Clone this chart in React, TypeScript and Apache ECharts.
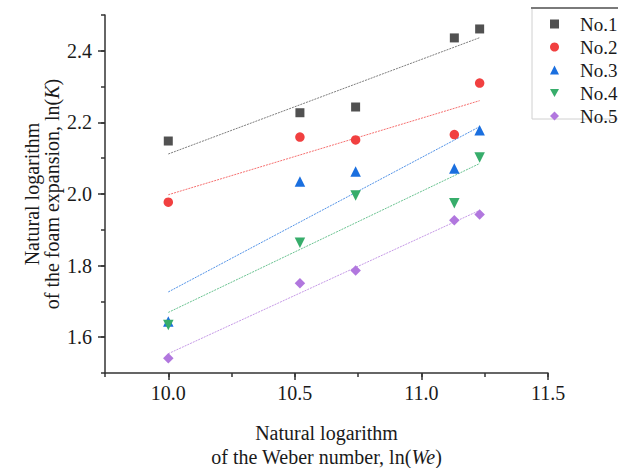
import React, { useEffect, useRef } from "react";
import * as echarts from "echarts";

const lnWe = [10.0, 10.52, 10.74, 11.13, 11.23];
const no1 = [2.148, 2.227, 2.243, 2.436, 2.461];
const no2 = [1.977, 2.159, 2.151, 2.166, 2.31];
const no3 = [1.644, 2.035, 2.063, 2.071, 2.178];
const no4 = [1.634, 1.864, 1.996, 1.974, 2.102];
const no5 = [1.541, 1.751, 1.786, 1.927, 1.943];
const seriesNames = ["No.1", "No.2", "No.3", "No.4", "No.5"];
const seriesValues = [no1, no2, no3, no4, no5];

const xMin = 9.75;
const xMax = 11.5;
const xMajorMin = 10.0;
const xMajorStep = 0.5;
const xMinorStep = 0.25;
const yMin = 1.5;
const yMax = 2.5;
const yMajorMin = 1.6;
const yMajorMax = 2.4;
const yMajorStep = 0.2;
const yMinorStep = 0.1;

const colors = ["#515151", "#F14040", "#1A6FDF", "#37AD6B", "#B177DE"];
const symbols = ["rect", "circle", "triangle", "triangle", "diamond"];
const legendIcons = ["rect", "circle", "triangle", "path://M0,0 L10,0 L5,9 Z", "diamond"];
const rotations = [0, 0, 0, 180, 0];
const sizes = [9, 9.5, 10.5, 10.5, 10.5];

const FONT = "'Liberation Serif', 'Times New Roman', serif";
const W = 618;
const H = 468;
const G = { left: 105, right: 70, top: 15, bottom: 95 };

function fit(xs: number[], ys: number[]) {
  const n = xs.length;
  const mx = xs.reduce((a, b) => a + b, 0) / n;
  const my = ys.reduce((a, b) => a + b, 0) / n;
  let sxy = 0;
  let sxx = 0;
  for (let i = 0; i < n; i++) {
    sxy += (xs[i] - mx) * (ys[i] - my);
    sxx += (xs[i] - mx) * (xs[i] - mx);
  }
  const b = sxy / sxx;
  const a = my - b * mx;
  const x0 = Math.min(...xs);
  const x1 = Math.max(...xs);
  return [
    [x0, a + b * x0],
    [x1, a + b * x1],
  ];
}

export default function App() {
  const ref = useRef<HTMLDivElement>(null);
  useEffect(() => {
    if (!ref.current) return;
    const chart = echarts.init(ref.current, null, { renderer: "svg" });
    const plotW = W - G.left - G.right;
    const plotH = H - G.top - G.bottom;
    const pxX = plotW / (xMax - xMin);
    const pxY = plotH / (yMax - yMin);
    const g2 = {
      left: G.left + (xMajorMin - xMin) * pxX,
      right: G.right,
      top: G.top + (yMax - yMajorMax) * pxY,
      bottom: G.bottom + (yMajorMin - yMin) * pxY,
    };
    const xOffset = (yMajorMin - yMin) * pxY;
    const yOffset = (xMajorMin - xMin) * pxX;

    const scatter = seriesNames.map((name, i) => ({
      name,
      type: "scatter",
      xAxisIndex: 0,
      yAxisIndex: 0,
      data: lnWe.map((x, j) => [x, seriesValues[i][j]]),
      symbol: symbols[i],
      symbolRotate: rotations[i],
      symbolSize: sizes[i],
      itemStyle: { color: colors[i], opacity: 1 },
      z: 3,
    }));
    const lines = seriesNames.map((name, i) => ({
      name: name + " fit",
      type: "line",
      xAxisIndex: 0,
      yAxisIndex: 0,
      data: fit(lnWe, seriesValues[i]),
      showSymbol: false,
      symbol: "none",
      lineStyle: { color: colors[i], width: 1, type: [2, 1], opacity: 0.75 },
      z: 2,
    }));
    const textStyle = { fontFamily: FONT, fontSize: 20, color: "#1a1a1a" };
    const axisColor = "#333";
    const nameStyle = (lh: number) => ({
      ...textStyle,
      lineHeight: lh,
      rich: { i: { ...textStyle, fontStyle: "italic", lineHeight: lh } },
    });
    chart.setOption({
      animation: false,
      color: colors,
      grid: [
        { ...G, containLabel: false, outerBoundsMode: "none" },
        { ...g2, containLabel: false, outerBoundsMode: "none" },
      ],
      legend: {
        data: seriesNames.map((name, i) => ({ name, icon: legendIcons[i] })),
        orient: "vertical",
        left: 545,
        top: 9,
        padding: 5,
        itemWidth: 9,
        itemHeight: 9,
        itemGap: 3,
        textStyle: { ...textStyle, fontSize: 19, lineHeight: 20, padding: [0, 0, 0, 16] },
      },
      xAxis: [
        {
          type: "value",
          gridIndex: 0,
          min: xMin,
          max: xMax,
          interval: xMinorStep,
          splitLine: { show: false },
          axisLine: { onZero: false, lineStyle: { color: axisColor, width: 1.5 } },
          axisTick: { inside: false, length: 4, lineStyle: { color: axisColor, width: 1.5 } },
          axisLabel: { show: false },
          name: "Natural logarithm\nof the Weber number, ln({i|We})",
          nameLocation: "middle",
          nameGap: 48,
          nameTextStyle: nameStyle(24),
        },
        {
          type: "value",
          gridIndex: 1,
          min: xMajorMin,
          max: xMax,
          interval: xMajorStep,
          offset: xOffset,
          splitLine: { show: false },
          axisLine: { show: false, onZero: false },
          axisTick: { inside: false, length: 7, lineStyle: { color: axisColor, width: 1.5 } },
          axisLabel: {
            ...textStyle,
            margin: 10,
            formatter: (v: number) => v.toFixed(1),
          },
        },
      ],
      yAxis: [
        {
          type: "value",
          gridIndex: 0,
          min: yMin,
          max: yMax,
          interval: yMinorStep,
          splitLine: { show: false },
          axisLine: { onZero: false, lineStyle: { color: axisColor, width: 1.5 } },
          axisTick: { inside: false, length: 4, lineStyle: { color: axisColor, width: 1.5 } },
          axisLabel: { show: false },
          name: "Natural logarithm\nof the foam expansion, ln({i|K})",
          nameLocation: "middle",
          nameGap: 43,
          nameTextStyle: nameStyle(20),
        },
        {
          type: "value",
          gridIndex: 1,
          min: yMajorMin,
          max: yMajorMax,
          interval: yMajorStep,
          offset: yOffset,
          splitLine: { show: false },
          axisLine: { show: false, onZero: false },
          axisTick: { inside: false, length: 7, lineStyle: { color: axisColor, width: 1.5 } },
          axisLabel: {
            ...textStyle,
            margin: 13,
            formatter: (v: number) => v.toFixed(1),
          },
        },
      ],
      graphic: [
        {
          type: "rect",
          shape: { x: 532, y: 8, width: 100, height: 111 },
          style: { fill: "none", stroke: "#d0d0d0", lineWidth: 1 },
          silent: true,
        },
        {
          type: "line",
          shape: { x1: 531, y1: 8, x2: 620, y2: 8 },
          style: { stroke: "#7a7a7a", lineWidth: 2 },
          silent: true,
        },
      ],
      series: [...lines, ...scatter],
    });
    return () => chart.dispose();
  }, []);
  return (
    <div
      ref={ref}
      style={{ position: "fixed", left: 0, top: 0, width: W, height: H, background: "#fff" }}
    />
  );
}
